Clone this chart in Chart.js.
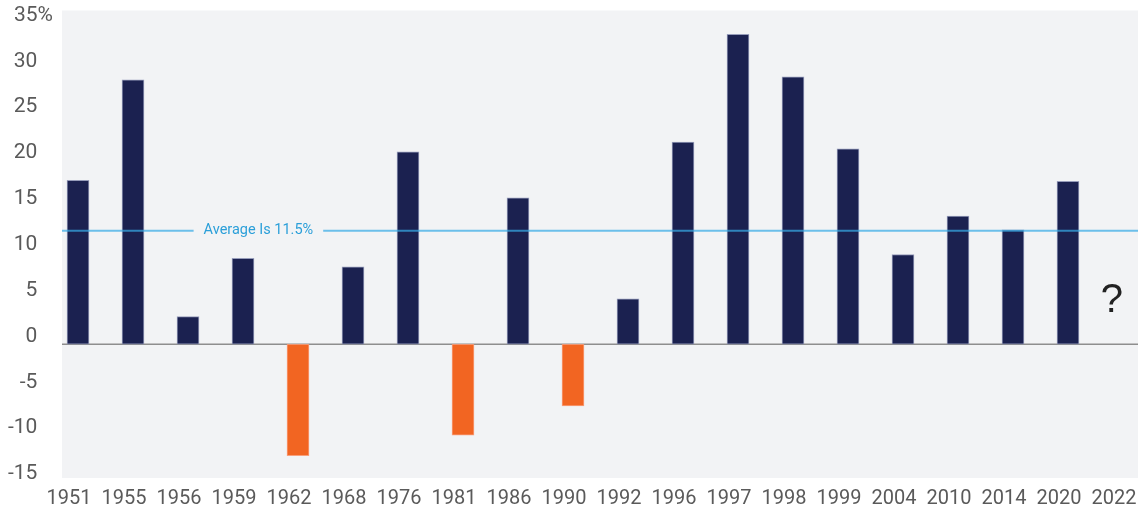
<!DOCTYPE html>
<html>
<head>
<meta charset="utf-8">
<script src="https://cdn.jsdelivr.net/npm/chart.js@4.4.1/dist/chart.umd.min.js"></script>
<style>
  html, body { margin: 0; background: #fff; }
  #wrap { width: 1138px; height: 511px; position: relative; }
</style>
</head>
<body>
<div id="wrap"><canvas id="returns"></canvas></div>
<script>
// years on the x axis, 2022 still open
const years = ["1951", "1955", "1956", "1959", "1962", "1968", "1976", "1981", "1986", "1990",
               "1992", "1996", "1997", "1998", "1999", "2004", "2010", "2014", "2020", "2022"];
// annual return, %
const returns = [16.6, 26.8, 2.8, 8.7, -11.3, 7.85, 19.5, -9.2, 14.85, -6.25,
                 4.6, 20.5, 31.4, 27.1, 19.8, 9.1, 13.0, 11.6, 16.5, null];
const yTickValues = [35, 30, 25, 20, 15, 10, 5, 0, -5, -10, -15];
const average = 11.5;
const averageText = "Average Is 11.5%";
const openText = "?";

const NAVY = "#1b2150";
const ORANGE = "#f26522";
const FONT = "Roboto, 'Liberation Sans', sans-serif";

// no extra room for labels sticking out past the plot
const noPad = s => { s.paddingLeft = 0; s.paddingRight = 0; s.paddingTop = 0; s.paddingBottom = 0; };

const decor = {
  id: "decor",
  beforeDraw(chart) {
    const { ctx, chartArea: a } = chart;
    ctx.save();
    ctx.fillStyle = "#f2f3f5";
    ctx.fillRect(a.left, a.top, a.right - a.left, a.bottom - a.top);
    ctx.restore();
  },
  beforeDatasetsDraw(chart) {
    const { ctx, chartArea: a, scales } = chart;
    const y0 = scales.y.getPixelForValue(0);
    ctx.save();
    ctx.strokeStyle = "#8e8e8e";
    ctx.lineWidth = 1.5;
    ctx.beginPath();
    ctx.moveTo(a.left, y0);
    ctx.lineTo(a.right, y0);
    ctx.stroke();
    ctx.restore();
  },
  afterDatasetsDraw(chart) {
    const { ctx, chartArea: a, scales } = chart;
    const ya = scales.y.getPixelForValue(average);
    const cx = scales.x.getPixelForValue(3.28);
    ctx.save();
    ctx.font = "14.5px " + FONT;
    const w = ctx.measureText(averageText).width;
    ctx.strokeStyle = "rgba(56,170,230,0.72)";
    ctx.lineWidth = 2;
    ctx.beginPath();
    ctx.moveTo(a.left, ya);
    ctx.lineTo(cx - w / 2 - 10, ya);
    ctx.moveTo(cx + w / 2 + 10, ya);
    ctx.lineTo(a.right, ya);
    ctx.stroke();
    ctx.fillStyle = "#2b9fd9";
    ctx.textAlign = "center";
    ctx.textBaseline = "alphabetic";
    ctx.fillText(averageText, cx, ya + 3);

    ctx.font = "40px 'Liberation Sans', sans-serif";
    ctx.fillStyle = "#222";
    ctx.fillText(openText, scales.x.getPixelForValue(18.8), scales.y.getPixelForValue(3.3));
    ctx.restore();
  }
};

new Chart(document.getElementById("returns"), {
  type: "bar",
  data: {
    datasets: [{
      data: years.map((yr, i) => ({ x: i, y: returns[i] })),
      backgroundColor: returns.map(v => v < 0 ? ORANGE : NAVY),
      borderColor: returns.map(v => v < 0 ? "rgba(250,150,110,0.9)" : "rgba(140,146,180,0.9)"),
      borderWidth: 1,
      borderSkipped: false,
      barThickness: 22,
      xAxisID: "x",
      yAxisID: "y"
    }]
  },
  options: {
    responsive: true,
    maintainAspectRatio: false,
    animation: false,
    layout: { padding: { top: 10.5, right: 0, bottom: 0, left: 0 } },
    plugins: { legend: { display: false }, tooltip: { enabled: false } },
    scales: {
      x: {
        type: "linear",
        offset: false,
        min: -0.291,
        max: 19.273,
        grid: { display: false, drawTicks: false, offset: false },
        border: { display: false },
        afterBuildTicks: s => { s.ticks = years.map((_, i) => ({ value: i })); },
        afterFit: s => { s.height = 33; noPad(s); },
        ticks: {
          autoSkip: false,
          maxRotation: 0,
          labelOffset: -9,
          padding: 9,
          color: "#5a5a5a",
          font: { family: FONT, size: 20 },
          callback: v => years[v]
        }
      },
      yl: {
        type: "linear",
        position: "left",
        min: -15.44,
        max: 35.55,
        grid: { display: false, drawTicks: false },
        border: { display: false },
        afterBuildTicks: s => { s.ticks = yTickValues.map(v => ({ value: v })); },
        afterFit: s => { s.width = 62; noPad(s); },
        ticks: {
          padding: 9,
          color: "#5a5a5a",
          font: { family: FONT, size: 21 },
          callback: v => v === 35 ? "35%" : v + "   "
        }
      },
      y: {
        type: "linear",
        display: false,
        min: -13.55,
        max: 33.82
      }
    }
  },
  plugins: [decor]
});
</script>
</body>
</html>
